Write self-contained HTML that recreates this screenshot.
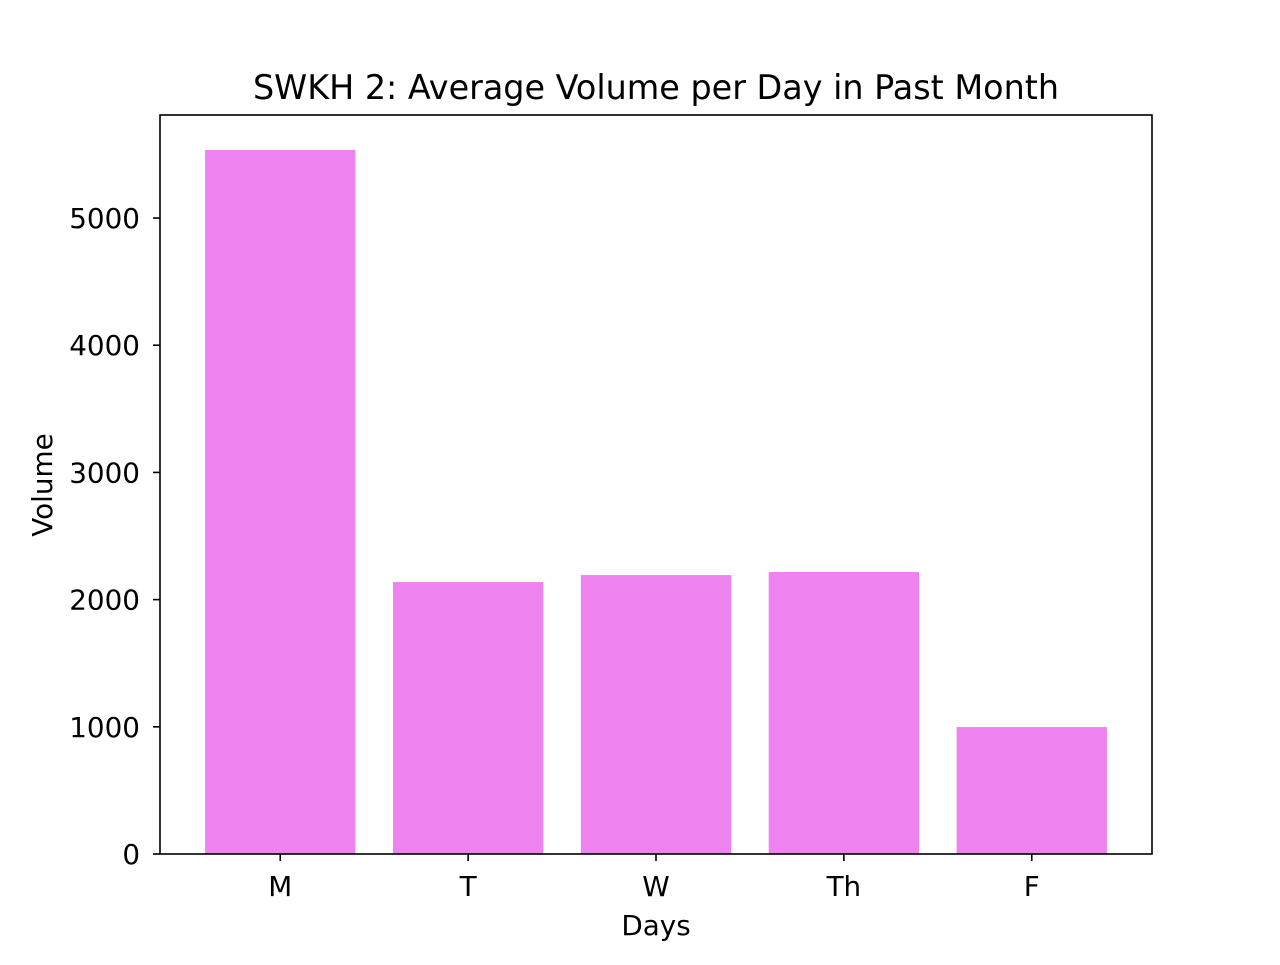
<!DOCTYPE html>
<html><head><meta charset="utf-8"><style>
html,body{margin:0;padding:0;background:#fff;}
svg text{font-family:"DejaVu Sans","Liberation Sans",sans-serif;fill:#000;}
</style></head><body>
<svg id="chart" width="1280" height="960" xmlns="http://www.w3.org/2000/svg">
<rect width="1280" height="960" fill="#fff"/>
<text x="656" y="99" font-size="33.4" text-anchor="middle">SWKH 2: Average Volume per Day in Past Month</text>
<text x="656" y="935" font-size="27.8" text-anchor="middle">Days</text>
<text transform="translate(52,485) rotate(-90)" font-size="27.8" text-anchor="middle">Volume</text>
<g id="bars"></g><g id="ticks"></g>
<rect x="160" y="115" width="992" height="739" fill="none" stroke="#000" stroke-width="1.6"/>
</svg>
<script>
const categories = ["M","T","W","Th","F"];
const volumes = [5535, 2138, 2193, 2217, 998];
const yTicks = [0,1000,2000,3000,4000,5000];
const NS="http://www.w3.org/2000/svg";
const L=160,R=1152,T=115,B=854;
const xmin=-0.64,xmax=categories.length-1+0.64;
const ymax=5810;
function xs(i){return L+(i-xmin)/(xmax-xmin)*(R-L);}
function ys(v){return B-v/ymax*(B-T);}
const bars=document.getElementById('bars'),ticks=document.getElementById('ticks');
function mk(tag,attrs,parent){const e=document.createElementNS(NS,tag);for(const k in attrs)e.setAttribute(k,attrs[k]);parent.appendChild(e);return e;}
const bw=0.8*(xs(1)-xs(0));
categories.forEach((c,i)=>{
  const r=mk('rect',{x:xs(i)-bw/2,y:ys(volumes[i]),width:bw,height:B-ys(volumes[i]),fill:'#ee82ee'},bars);
  
  
  const t=mk('line',{x1:xs(i),x2:xs(i),y1:B,y2:B+7,stroke:'#000','stroke-width':1.6},ticks);
  
  
  const lb=mk('text',{x:xs(i),y:B+42,'font-size':27.8,'text-anchor':'middle'},ticks);
  lb.textContent=c;
  
  
});
yTicks.forEach(v=>{
  const t=mk('line',{x1:L-7,x2:L,y1:ys(v),y2:ys(v),stroke:'#000','stroke-width':1.6},ticks);
  
  
  const lb=mk('text',{x:L-20,y:ys(v)+10,'font-size':27.8,'text-anchor':'end'},ticks);
  lb.textContent=v;
  
  
});
</script>
</body></html>
